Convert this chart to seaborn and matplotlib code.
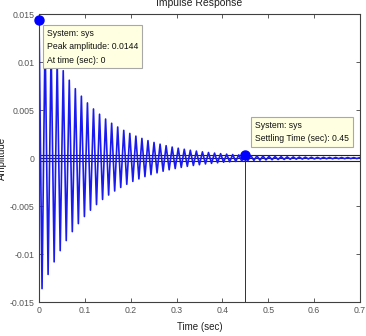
import numpy as np
import pandas as pd
import seaborn as sns
import matplotlib
matplotlib.use('Agg')
import matplotlib.pyplot as plt

# extrema of the impulse response (time in sec, amplitude)
times = [0.0000, 0.0066, 0.0132, 0.0198, 0.0264, 0.0330, 0.0396, 0.0462, 0.0528, 0.0594,
         0.0660, 0.0726, 0.0792, 0.0858, 0.0924, 0.0990, 0.1056, 0.1122, 0.1188, 0.1254,
         0.1320, 0.1386, 0.1452, 0.1518, 0.1584, 0.1650, 0.1716, 0.1782, 0.1848, 0.1914,
         0.1980, 0.2046, 0.2112, 0.2178, 0.2244, 0.2310, 0.2376, 0.2442, 0.2508, 0.2574,
         0.2640, 0.2706, 0.2772, 0.2838, 0.2904, 0.2970, 0.3036, 0.3102, 0.3168, 0.3234,
         0.3300, 0.3366, 0.3432, 0.3498, 0.3564, 0.3630, 0.3696, 0.3762, 0.3828, 0.3894,
         0.3960, 0.4026, 0.4092, 0.4158, 0.4224, 0.4290, 0.4356, 0.4422, 0.4488, 0.4554,
         0.4620, 0.4686, 0.4752, 0.4818, 0.4884, 0.4950, 0.5016, 0.5082, 0.5148, 0.5214,
         0.5280, 0.5346, 0.5412, 0.5478, 0.5544, 0.5610, 0.5676, 0.5742, 0.5808, 0.5874,
         0.5940, 0.6006, 0.6072, 0.6138, 0.6204, 0.6270, 0.6336, 0.6402, 0.6468, 0.6534,
         0.6600, 0.6666, 0.6732, 0.6798, 0.6864, 0.6930, 0.6996]
amplitude = [0.01440, -0.01360, 0.01284, -0.01212, 0.01145, -0.01081, 0.01020, -0.00964, 0.00910, -0.00859,
             0.00811, -0.00766, 0.00723, -0.00683, 0.00645, -0.00609, 0.00575, -0.00543, 0.00512, -0.00484,
             0.00457, -0.00431, 0.00407, -0.00385, 0.00363, -0.00343, 0.00324, -0.00306, 0.00289, -0.00273,
             0.00257, -0.00243, 0.00229, -0.00217, 0.00205, -0.00193, 0.00182, -0.00172, 0.00163, -0.00154,
             0.00145, -0.00137, 0.00129, -0.00122, 0.00115, -0.00109, 0.00103, -0.00097, 0.00092, -0.00086,
             0.00082, -0.00077, 0.00073, -0.00069, 0.00065, -0.00061, 0.00058, -0.00055, 0.00052, -0.00049,
             0.00046, -0.00043, 0.00041, -0.00039, 0.00037, -0.00035, 0.00033, -0.00031, 0.00029, -0.00027,
             0.00026, -0.00024, 0.00023, -0.00022, 0.00021, -0.00019, 0.00018, -0.00017, 0.00016, -0.00015,
             0.00015, -0.00014, 0.00013, -0.00012, 0.00012, -0.00011, 0.00011, -0.00010, 0.00010, -0.00009,
             0.00009, -0.00009, 0.00008, -0.00008, 0.00008, -0.00007, 0.00007, -0.00007, 0.00007, -0.00006,
             0.00006, -0.00006, 0.00006, -0.00005, 0.00005, -0.00005, 0.00005]

peak_time = 0.0
peak_amp = 0.0144
settle_time = 0.45
settle_amp = 0.00029
settle_band = 0.000288

xticks = [0, 0.1, 0.2, 0.3, 0.4, 0.5, 0.6, 0.7]
xticklabels = ['0', '0.1', '0.2', '0.3', '0.4', '0.5', '0.6', '0.7']
yticks = [-0.015, -0.01, -0.005, 0, 0.005, 0.01, 0.015]
yticklabels = ['-0.015', '-0.01', '-0.005', '0', '0.005', '0.01', '0.015']

sns.set_style('white')
plt.rcParams['font.family'] = ['Liberation Sans Narrow', 'Liberation Sans', 'DejaVu Sans']

df = pd.DataFrame({'Time (sec)': times, 'Amplitude': amplitude})

fig = plt.figure(figsize=(3.66, 3.36), dpi=100)
ax = fig.add_axes([0.1066, 0.101, 0.877, 0.857])

# settling band and steady state lines
for yv in [-settle_band, 0, settle_band]:
    ax.axhline(yv, color='#1c1c5a', lw=0.8, zorder=1)

sns.lineplot(data=df, x='Time (sec)', y='Amplitude', color='#1a1af0', lw=1.2, ax=ax, zorder=2)

ax.plot([settle_time, settle_time], [-0.015, settle_amp], color='#303030', lw=0.7, zorder=1)
ax.plot([peak_time], [peak_amp], 'o', color='#0000ff', ms=6.5, zorder=5, clip_on=False)
ax.plot([settle_time], [settle_amp], 'o', color='#0000ff', ms=6.5, zorder=5)

ax.set_xlim(0, 0.7)
ax.set_ylim(-0.015, 0.015)
ax.set_xticks(xticks)
ax.set_xticklabels(xticklabels)
ax.set_yticks(yticks)
ax.set_yticklabels(yticklabels)
ax.tick_params(direction='in', length=3, width=0.6, colors='#404040', labelsize=6.3,
               top=True, right=True, bottom=True, left=True, labelcolor='#555555', pad=3)
for sp in ax.spines.values():
    sp.set_visible(True)
    sp.set_color('#404040')
    sp.set_linewidth(0.8)

ax.set_title('Impulse Response', fontsize=7.5, pad=6, color='#202020')
ax.set_xlabel('Time (sec)', fontsize=7, labelpad=5, color='#202020')
ax.set_ylabel('Amplitude', fontsize=7, labelpad=2, color='#202020')

box = dict(boxstyle='square,pad=0.45', facecolor='#ffffe1', edgecolor='#a8a8a8', lw=0.8)
ax.text(0.0165, 0.0135, 'System: sys\nPeak amplitude: 0.0144\nAt time (sec): 0',
        fontsize=6.2, va='top', ha='left', linespacing=1.65, bbox=box, zorder=6, color='#101010')
ax.text(0.4705, 0.0039, 'System: sys\nSettling Time (sec): 0.45',
        fontsize=6.2, va='top', ha='left', linespacing=1.65, bbox=box, zorder=6, color='#101010')

fig.savefig('out.png', dpi=100)
